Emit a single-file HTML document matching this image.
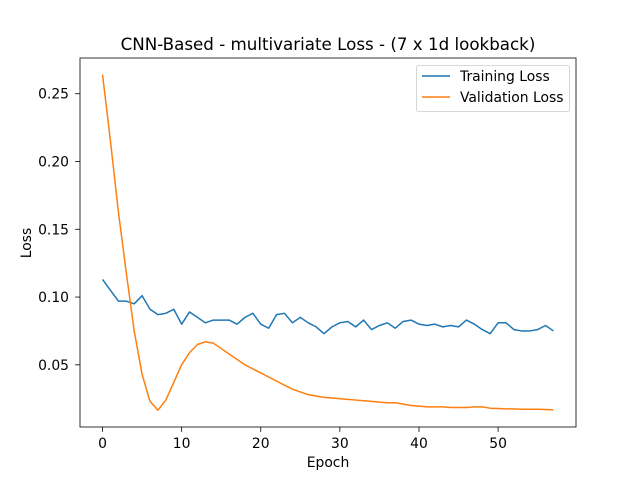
<!DOCTYPE html>
<html><head><meta charset="utf-8"><style>
body{margin:0;background:#fff;}
svg{display:block;font-family:"DejaVu Sans","Liberation Sans",sans-serif;}
</style></head><body>
<svg id="chart" width="640" height="480">
<rect x="0" y="0" width="640" height="480" fill="#fff"/>
<text x="328" y="50" font-size="16.7" text-anchor="middle">CNN-Based - multivariate Loss - (7 x 1d lookback)</text>
<text x="328" y="467" font-size="13.9" text-anchor="middle">Epoch</text>
<text x="31" y="243" font-size="13.9" text-anchor="middle" transform="rotate(-90 31 243)">Loss</text>
<g id="ticks"></g>
<g id="series"></g>
<rect x="80" y="58" width="496" height="369" fill="none" stroke="#000" stroke-width="0.8"/>
<g>
<rect x="416.5" y="65.5" width="153" height="46" rx="2" fill="#fff" stroke="#ccc" stroke-width="0.8"/>
<line x1="422" y1="76" x2="450" y2="76" stroke="#1f77b4" stroke-width="1.5"/>
<text x="460" y="81" font-size="13.9">Training Loss</text>
<line x1="422" y1="97" x2="450" y2="97" stroke="#ff7f0e" stroke-width="1.5"/>
<text x="460" y="102" font-size="13.9">Validation Loss</text>
</g>
</svg>
<script>
const trainingLoss=[0.113,0.105,0.097,0.097,0.095,0.101,0.091,0.087,0.088,0.091,0.080,0.089,0.085,0.081,0.083,0.083,0.083,0.080,0.085,0.088,0.080,0.077,0.087,0.088,0.081,0.085,0.081,0.078,0.073,0.078,0.081,0.082,0.078,0.083,0.076,0.079,0.081,0.077,0.082,0.083,0.080,0.079,0.080,0.078,0.079,0.078,0.083,0.080,0.076,0.073,0.081,0.081,0.076,0.075,0.075,0.076,0.079,0.075];
const validationLoss=[0.264,0.215,0.163,0.118,0.075,0.043,0.023,0.0165,0.024,0.037,0.050,0.059,0.065,0.067,0.066,0.062,0.058,0.054,0.050,0.047,0.044,0.041,0.038,0.035,0.032,0.030,0.028,0.027,0.026,0.0255,0.025,0.0245,0.024,0.0235,0.023,0.0225,0.022,0.022,0.021,0.020,0.0195,0.019,0.019,0.019,0.0185,0.0185,0.0185,0.019,0.019,0.018,0.0178,0.0175,0.0175,0.0172,0.0172,0.0172,0.017,0.0168];
const xTicks=[0,10,20,30,40,50];
const yTicks=[0.05,0.10,0.15,0.20,0.25];
const yTickLabels=["0.05","0.10","0.15","0.20","0.25"];

const NS="http://www.w3.org/2000/svg";
const L=80,R=576,T=58,B=427;
const n=trainingLoss.length;
const xmin=-0.05*(n-1),xmax=(n-1)*1.05;
const all=trainingLoss.concat(validationLoss);
const dmin=Math.min(...all),dmax=Math.max(...all),pad=(dmax-dmin)*0.05;
const ymin=dmin-pad,ymax=dmax+pad;
const sx=v=>L+(v-xmin)/(xmax-xmin)*(R-L);
const sy=v=>B-(v-ymin)/(ymax-ymin)*(B-T);

const tg=document.getElementById('ticks');
xTicks.forEach(t=>{
  const x=sx(t);
  const l=document.createElementNS(NS,'line');
  l.setAttribute('x1',x);l.setAttribute('x2',x);l.setAttribute('y1',B);l.setAttribute('y2',B+4.9);
  l.setAttribute('stroke','#000');l.setAttribute('stroke-width','0.8');
  
  
  tg.appendChild(l);
  const tx=document.createElementNS(NS,'text');
  tx.setAttribute('x',x);tx.setAttribute('y',B+21);tx.setAttribute('font-size','13.9');tx.setAttribute('text-anchor','middle');
  tx.textContent=String(t);
  
  
  tg.appendChild(tx);
});
yTicks.forEach((t,i)=>{
  const y=sy(t);
  const l=document.createElementNS(NS,'line');
  l.setAttribute('x1',L-4.9);l.setAttribute('x2',L);l.setAttribute('y1',y);l.setAttribute('y2',y);
  l.setAttribute('stroke','#000');l.setAttribute('stroke-width','0.8');
  
  
  tg.appendChild(l);
  const tx=document.createElementNS(NS,'text');
  tx.setAttribute('x',L-11);tx.setAttribute('y',y+5);tx.setAttribute('font-size','13.9');tx.setAttribute('text-anchor','end');
  tx.textContent=yTickLabels[i];
  
  
  tg.appendChild(tx);
});
const sg=document.getElementById('series');
function line(data,color,name){
  const p=document.createElementNS(NS,'polyline');
  p.setAttribute('points',data.map((v,i)=>sx(i).toFixed(2)+','+sy(v).toFixed(2)).join(' '));
  p.setAttribute('fill','none');p.setAttribute('stroke',color);p.setAttribute('stroke-width','1.5');
  p.setAttribute('stroke-linejoin','round');
  
  
  sg.appendChild(p);
}
line(trainingLoss,'#1f77b4','training-loss-line');
line(validationLoss,'#ff7f0e','validation-loss-line');
</script>
</body></html>
